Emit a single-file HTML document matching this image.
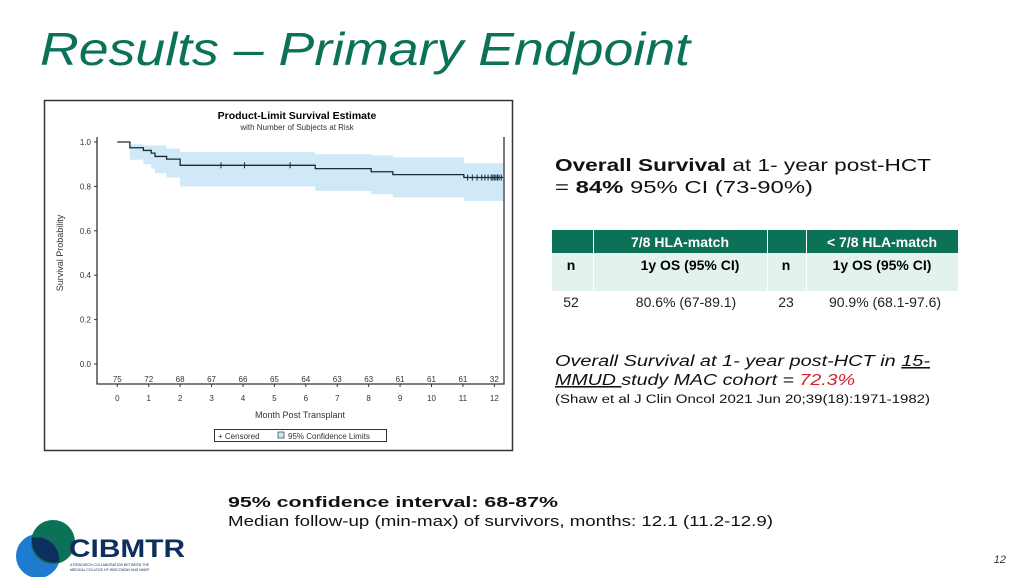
<!DOCTYPE html>
<html><head><meta charset="utf-8"><style>
html,body{margin:0;padding:0;background:#fff;}
svg{display:block;font-family:"Liberation Sans",sans-serif;}
</style></head><body>
<svg width="1030" height="577" viewBox="0 0 1030 577">
<text x="40" y="65" font-size="46" font-style="italic" fill="#0b7157" textLength="650" lengthAdjust="spacingAndGlyphs">Results – Primary Endpoint</text>

<g>
<rect x="44.5" y="100.5" width="468" height="350" fill="#fff" stroke="#333" stroke-width="1.5"/>
<text x="297" y="119" font-size="10.5" font-weight="bold" text-anchor="middle">Product-Limit Survival Estimate</text>
<text x="297" y="130" font-size="8" text-anchor="middle" fill="#333">with Number of Subjects at Risk</text>
<g id="plot"></g>
<text transform="translate(63,253) rotate(-90)" font-size="9" text-anchor="middle" fill="#333">Survival Probability</text>
<text x="300" y="418" font-size="9" text-anchor="middle" fill="#333">Month Post Transplant</text>
<g>
<rect x="214.5" y="429.5" width="172" height="12" fill="#fff" stroke="#333"/>
<text x="218" y="439" font-size="8" fill="#333">+  Censored</text>
<rect x="278" y="432" width="6" height="6" fill="#cfe9f8" stroke="#333" stroke-width="0.7"/>
<text x="288" y="439" font-size="8" fill="#333">95% Confidence Limits</text>
</g>
</g>

<g>
<text x="555" y="171" font-size="17.5" fill="#111" textLength="376" lengthAdjust="spacingAndGlyphs"><tspan font-weight="bold">Overall Survival</tspan> at 1- year post-HCT</text>
<text x="555" y="193" font-size="17.5" fill="#111" textLength="258" lengthAdjust="spacingAndGlyphs">= <tspan font-weight="bold">84%</tspan> 95% CI (73-90%)</text>
</g>

<g font-size="14">
<rect x="552" y="230" width="406" height="23" fill="#0b7157"/>
<rect x="552" y="253" width="406" height="38" fill="#e4f2ee"/>
<line x1="593.5" y1="230" x2="593.5" y2="291" stroke="#fff"/>
<line x1="767.5" y1="230" x2="767.5" y2="291" stroke="#fff"/>
<line x1="806.5" y1="230" x2="806.5" y2="291" stroke="#fff"/>
<text x="680" y="247" fill="#fff" font-weight="bold" text-anchor="middle">7/8 HLA-match</text>
<text x="882" y="247" fill="#fff" font-weight="bold" text-anchor="middle">&lt; 7/8 HLA-match</text>
<text x="571" y="270" font-weight="bold" text-anchor="middle">n</text>
<text x="690" y="270" font-weight="bold" text-anchor="middle">1y OS (95% CI)</text>
<text x="786" y="270" font-weight="bold" text-anchor="middle">n</text>
<text x="882" y="270" font-weight="bold" text-anchor="middle">1y OS (95% CI)</text>
<text x="571" y="307" text-anchor="middle" fill="#222">52</text>
<text x="686" y="307" text-anchor="middle" fill="#222">80.6% (67-89.1)</text>
<text x="786" y="307" text-anchor="middle" fill="#222">23</text>
<text x="885" y="307" text-anchor="middle" fill="#222">90.9% (68.1-97.6)</text>
</g>

<g font-style="italic" font-size="15.5" fill="#111">
<text x="555" y="366" textLength="375" lengthAdjust="spacingAndGlyphs">Overall Survival at 1- year post-HCT in <tspan text-decoration="underline">15-</tspan></text>
<text x="555" y="385" textLength="300" lengthAdjust="spacingAndGlyphs"><tspan text-decoration="underline">MMUD </tspan>study MAC cohort = <tspan fill="#d0202a">72.3%</tspan></text>
<text x="555" y="403" font-style="normal" font-size="11.5" textLength="375" lengthAdjust="spacingAndGlyphs">(Shaw et al J Clin Oncol 2021 Jun 20;39(18):1971-1982)</text>
</g>

<g font-size="15" fill="#111">
<text x="228" y="507" font-weight="bold" textLength="330" lengthAdjust="spacingAndGlyphs">95% confidence interval: 68-87%</text>
<text x="228" y="526" textLength="545" lengthAdjust="spacingAndGlyphs">Median follow-up (min-max) of survivors, months: 12.1 (11.2-12.9)</text>
</g>

<g>
<circle cx="38" cy="556" r="22" fill="#1e7bd0"/>
<circle cx="53" cy="542" r="22" fill="#0b7157"/>
<path d="M32 538 A22 22 0 0 1 59 562 A22 22 0 0 1 32 538Z" fill="#0d2f5e"/>
<text x="69" y="557" font-size="25" font-weight="bold" fill="#0d2f5e" textLength="116" lengthAdjust="spacingAndGlyphs">CIBMTR</text>
<text x="70" y="566" font-size="3.5" fill="#0d2f5e">A RESEARCH COLLABORATION BETWEEN THE</text>
<text x="70" y="571" font-size="3.5" fill="#0d2f5e">MEDICAL COLLEGE OF WISCONSIN AND NMDP</text>
</g>
<text x="1006" y="563" font-size="11" font-style="italic" fill="#333" text-anchor="end">12</text>
</svg>
<script>
const months=[0,0.4,0.83,1.08,1.2,1.57,2.0,6.3,8.08,8.77,11.03,12.28];
const surv=[1.0,0.974,0.962,0.95,0.935,0.923,0.895,0.88,0.866,0.853,0.84];
const ciUpper=[1.0,0.99,0.985,0.985,0.985,0.97,0.955,0.945,0.94,0.93,0.905];
const ciLower=[1.0,0.92,0.9,0.88,0.86,0.84,0.80,0.78,0.765,0.75,0.735];
const censorTimes=[3.3,4.05,5.5,11.15,11.3,11.45,11.6,11.7,11.8,11.9,11.95,12.0,12.05,12.1,12.15,12.22];
const xTicks=[0,1,2,3,4,5,6,7,8,9,10,11,12];
const atRisk=[75,72,68,67,66,65,64,63,63,61,61,61,32];
const yTicks=[0,0.2,0.4,0.6,0.8,1.0];
const NS='http://www.w3.org/2000/svg';
const X=m=>117.3+m*31.42, Y=v=>364-v*222;
const g=document.getElementById('plot');
function mk(t,a){const e=document.createElementNS(NS,t);for(const k in a)e.setAttribute(k,a[k]);g.appendChild(e);return e;}
// CI band
let up='',lo=[];
for(let i=0;i<surv.length;i++){up+=`L${X(months[i])},${Y(ciUpper[i])} L${X(months[i+1])},${Y(ciUpper[i])} `;lo.unshift(`L${X(months[i+1])},${Y(ciLower[i])} L${X(months[i])},${Y(ciLower[i])}`);}
const band=mk('path',{d:'M'+up.slice(1)+lo.join(' ')+'Z',fill:'#cfe9f8'});


// step
let d=`M${X(months[0])},${Y(surv[0])}`;
for(let i=0;i<surv.length;i++){d+=` L${X(months[i])},${Y(surv[i])} L${X(months[i+1])},${Y(surv[i])}`;}
const line=mk('path',{d:d,fill:'none',stroke:'#1a2a33','stroke-width':1.3});


function survAt(t){let v=surv[0];for(let i=0;i<surv.length;i++)if(t>=months[i])v=surv[i];return v;}
censorTimes.forEach(t=>{const c=mk('line',{x1:X(t),x2:X(t),y1:Y(survAt(t))-3,y2:Y(survAt(t))+3,stroke:'#1a2a33','stroke-width':1});

});
// axes
mk('path',{d:'M97,137 L97,384 L504,384 L504,137',fill:'none',stroke:'#333','stroke-width':1.3});
yTicks.forEach(v=>{mk('line',{x1:94,x2:97,y1:Y(v),y2:Y(v),stroke:'#333'});
const t=mk('text',{x:91,y:Y(v)+3,'font-size':8,'text-anchor':'end',fill:'#333'});t.textContent=v.toFixed(1);

});
xTicks.forEach((m,i)=>{mk('line',{x1:X(m),x2:X(m),y1:384,y2:387,stroke:'#333'});
const t=mk('text',{x:X(m),y:401,'font-size':8,'text-anchor':'middle',fill:'#333'});t.textContent=m;


const r=mk('text',{x:X(m),y:382,'font-size':8,'text-anchor':'middle',fill:'#333'});r.textContent=atRisk[i];

});
</script>
</body></html>
